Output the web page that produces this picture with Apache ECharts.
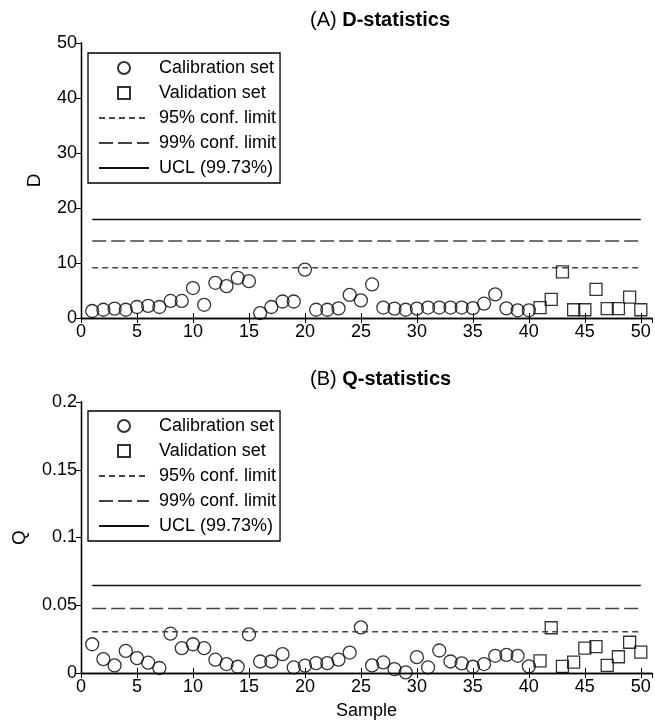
<!DOCTYPE html>
<html>
<head>
<meta charset="utf-8">
<script src="https://cdn.jsdelivr.net/npm/echarts@6/dist/echarts.min.js"></script>
<style>
  body { margin: 0; background: #fff; }
  #myChart { width: 655px; height: 721px; }
</style>
</head>
<body>
<div id="myChart"></div>
<script>
// samples 1-40 calibration, 41-50 validation
var calSamples = [1, 2, 3, 4, 5, 6, 7, 8, 9, 10, 11, 12, 13, 14, 15, 16, 17, 18, 19, 20,
  21, 22, 23, 24, 25, 26, 27, 28, 29, 30, 31, 32, 33, 34, 35, 36, 37, 38, 39, 40]
var valSamples = [41, 42, 43, 44, 45, 46, 47, 48, 49, 50]

var dCal = [1.27, 1.5, 1.7, 1.5, 2.0, 2.2, 2.0, 3.1, 3.1, 5.45, 2.4, 6.4, 5.8, 7.3, 6.7, 0.9, 2.0, 3.0, 3.0, 8.8,
  1.5, 1.5, 1.75, 4.2, 3.2, 6.1, 1.9, 1.7, 1.5, 1.7, 1.9, 1.9, 1.9, 1.9, 1.8, 2.6, 4.3, 1.75, 1.4, 1.4]
var dVal = [1.9, 3.4, 8.4, 1.5, 1.5, 5.2, 1.7, 1.7, 3.8, 1.5]
var dLimits = [9.15, 14.0, 17.9] // 95%, 99%, UCL

var qCal = [0.0212, 0.0102, 0.0056, 0.0163, 0.011, 0.0076, 0.0037, 0.029, 0.0183, 0.0212,
  0.0183, 0.0098, 0.0066, 0.0046, 0.0285, 0.0085, 0.0085, 0.0139, 0.0041, 0.0054,
  0.0073, 0.0073, 0.0098, 0.0151, 0.0337, 0.0056, 0.0078, 0.0029, 0.0005, 0.0117,
  0.0041, 0.0166, 0.0085, 0.0071, 0.0046, 0.0066, 0.0127, 0.0134, 0.0127, 0.0049]
var qVal = [0.009, 0.0334, 0.0049, 0.008, 0.0183, 0.0195, 0.0056, 0.012, 0.0227, 0.0154]
var qLimits = [0.0305, 0.0476, 0.0646]

var limitNames = ['95% conf. limit', '99% conf. limit', 'UCL (99.73%)']
var limitDash = [[6, 4], [14, 5], 'solid']
var limitColor = ['#444', '#444', '#111']

var FONT = 'Liberation Sans'
var firstSample = 1
var lastSample = 50
var squareIcon = 'path://M0,0L10,0L10,10L0,10Z'

function pairs (xs, ys) {
  return xs.map(function (x, i) { return [x, ys[i]] })
}

function buildSeries (gi, cal, val, limits) {
  var s = [
    {
      name: 'Calibration set', type: 'scatter', xAxisIndex: gi * 2, yAxisIndex: gi * 2,
      symbol: 'circle', symbolSize: 13, data: pairs(calSamples, cal),
      itemStyle: { color: 'rgba(255,255,255,0)', borderColor: '#000', borderWidth: 1.3 }
    },
    {
      name: 'Validation set', type: 'scatter', xAxisIndex: gi * 2, yAxisIndex: gi * 2,
      symbol: 'rect', symbolSize: 12, data: pairs(valSamples, val),
      itemStyle: { color: 'rgba(255,255,255,0)', borderColor: '#000', borderWidth: 1.3 }
    }
  ]
  limits.forEach(function (v, i) {
    s.push({
      name: limitNames[i], type: 'line', xAxisIndex: gi * 2, yAxisIndex: gi * 2,
      symbol: 'none', data: [[firstSample, v], [lastSample, v]],
      itemStyle: { color: 'rgba(0,0,0,0)', borderWidth: 0 },
      lineStyle: { color: limitColor[i], width: 1.5, type: limitDash[i] }
    })
  })
  return s
}

function xAxes (gi, withName) {
  var common = { type: 'value', gridIndex: gi, min: 0, max: 51, interval: 5, splitLine: { show: false } }
  return [
    Object.assign({}, common, {
      position: 'bottom',
      name: withName ? 'Sample' : '', nameLocation: 'middle', nameGap: 29,
      nameTextStyle: { fontFamily: FONT, fontSize: 18, color: '#000' },
      axisLine: { lineStyle: { color: '#000', width: 1.3 } },
      axisTick: { inside: true, length: 5, lineStyle: { color: '#000' } },
      axisLabel: { fontFamily: FONT, fontSize: 18, color: '#000', margin: 5, showMaxLabel: false }
    }),
    Object.assign({}, common, {
      position: 'top',
      axisLine: { lineStyle: { color: '#000', width: 1.3 } },
      axisTick: { inside: true, length: 5, lineStyle: { color: '#000' } },
      axisLabel: { show: false }
    })
  ]
}

function yAxes (gi, max, interval, name, gap) {
  var common = { type: 'value', gridIndex: gi, min: 0, max: max, interval: interval, splitLine: { show: false } }
  return [
    Object.assign({}, common, {
      position: 'left',
      name: name, nameLocation: 'middle', nameGap: gap,
      nameTextStyle: { fontFamily: FONT, fontSize: 19, color: '#000' },
      axisLine: { lineStyle: { color: '#000', width: 1.3 } },
      axisTick: { inside: false, length: 4, lineStyle: { color: '#000' } },
      axisLabel: { fontFamily: FONT, fontSize: 18, color: '#000', margin: 4 }
    }),
    Object.assign({}, common, {
      position: 'right',
      axisLine: { lineStyle: { color: '#000', width: 1.3 } },
      axisTick: { inside: true, length: 5, lineStyle: { color: '#000' } },
      axisLabel: { show: false }
    })
  ]
}

function legend (top) {
  return {
    orient: 'vertical', left: 88, top: top,
    data: [
      { name: 'Calibration set' },
      { name: 'Validation set', icon: squareIcon }
    ].concat(limitNames.map(function (n) { return { name: n } })),
    itemWidth: 50, itemHeight: 12, itemGap: 7,
    padding: [6, 4, 6, 10],
    borderColor: '#000', borderWidth: 1.3, backgroundColor: '#fff',
    selectedMode: false,
    textStyle: { fontFamily: FONT, fontSize: 18, color: '#000', padding: [0, 0, 0, 5] }
  }
}

function title (label, bold, top) {
  return {
    text: '{n|' + label + ' }{b|' + bold + '}',
    left: 310, top: top, padding: 0,
    textStyle: {
      rich: {
        n: { fontFamily: FONT, fontSize: 20, fontWeight: 'normal', color: '#000' },
        b: { fontFamily: FONT, fontSize: 20, fontWeight: 'bold', color: '#000' }
      }
    }
  }
}

var myChart = echarts.init(document.getElementById('myChart'))
myChart.setOption({
  animation: false,
  title: [title('(A)', 'D-statistics', 10), title('(B)', 'Q-statistics', 369)],
  legend: [legend(53), legend(411)],
  grid: [
    { left: 81, right: 3, top: 43, height: 275 },
    { left: 81, right: 3, top: 402, height: 273 }
  ],
  xAxis: xAxes(0, false).concat(xAxes(1, true)),
  yAxis: yAxes(0, 50, 10, 'D', 37).concat(yAxes(1, 0.2, 0.05, 'Q', 52)),
  series: buildSeries(0, dCal, dVal, dLimits).concat(buildSeries(1, qCal, qVal, qLimits))
})
</script>
</body>
</html>
